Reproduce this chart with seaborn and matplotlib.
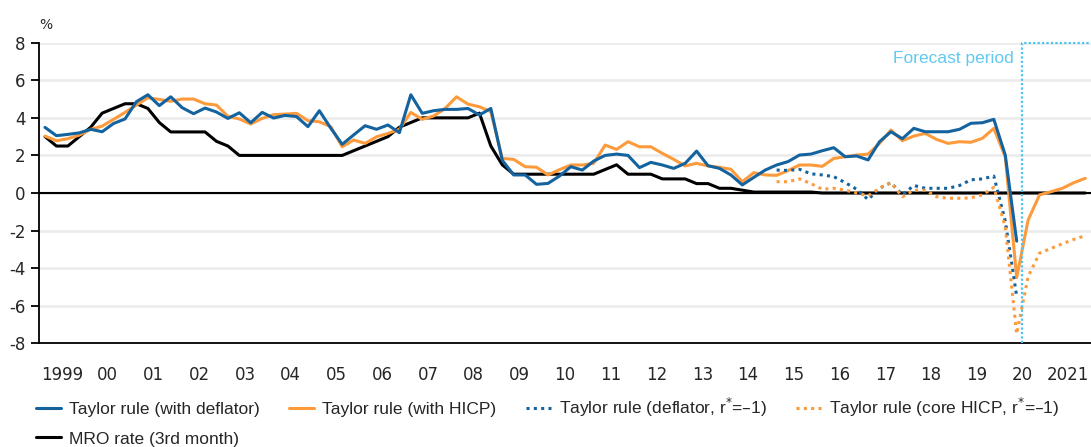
import numpy as np
import pandas as pd
import matplotlib
matplotlib.use("Agg")
import matplotlib.pyplot as plt
import seaborn as sns

# ---------------- data ----------------
start_period = "1999Q1"
forecast_start = 2020.5
year_labels = ["1999", "00", "01", "02", "03", "04", "05", "06", "07", "08", "09",
               "10", "11", "12", "13", "14", "15", "16", "17", "18", "19", "20", "2021"]

mro_rate = [3.0, 2.5, 2.5, 3.0, 3.5, 4.25, 4.5, 4.75, 4.75, 4.5, 3.75, 3.25,
            3.25, 3.25, 3.25, 2.75, 2.5, 2.0, 2.0, 2.0, 2.0, 2.0, 2.0, 2.0,
            2.0, 2.0, 2.0, 2.25, 2.5, 2.75, 3.0, 3.5, 3.75, 4.0, 4.0, 4.0,
            4.0, 4.0, 4.25, 2.5, 1.5, 1.0, 1.0, 1.0, 1.0, 1.0, 1.0, 1.0,
            1.0, 1.25, 1.5, 1.0, 1.0, 1.0, 0.75, 0.75, 0.75, 0.5, 0.5, 0.25,
            0.25, 0.15, 0.05, 0.05, 0.05, 0.05, 0.05, 0.05, 0.0, 0.0, 0.0, 0.0,
            0.0, 0.0, 0.0, 0.0, 0.0, 0.0, 0.0, 0.0, 0.0, 0.0, 0.0, 0.0,
            0.0, 0.0, 0.0, 0.0, 0.0, 0.0, 0.0, 0.0]

taylor_deflator = [3.49, 3.05, 3.12, 3.2, 3.39, 3.26, 3.7, 3.94, 4.86, 5.23, 4.65, 5.12,
                   4.54, 4.22, 4.52, 4.31, 3.97, 4.27, 3.74, 4.29, 3.99, 4.13, 4.07, 3.53,
                   4.38, 3.45, 2.59, 3.09, 3.58, 3.39, 3.62, 3.21, 5.23, 4.24, 4.38, 4.45,
                   4.45, 4.5, 4.15, 4.5, 1.74, 0.96, 0.96, 0.46, 0.51, 0.9, 1.4, 1.22,
                   1.7, 2.0, 2.07, 2.0, 1.35, 1.63, 1.49, 1.31, 1.58, 2.23, 1.45, 1.31,
                   0.96, 0.43, 0.83, 1.22, 1.49, 1.67, 2.02, 2.07, 2.25, 2.41, 1.93, 1.97,
                   1.76, 2.73, 3.26, 2.89, 3.44, 3.26, 3.26, 3.26, 3.39, 3.71, 3.74, 3.92,
                   2.02, -2.56]

taylor_hicp = [3.03, 2.78, 2.89, 3.08, 3.39, 3.56, 3.92, 4.29, 4.68, 5.07, 4.98, 4.88,
               5.0, 5.0, 4.75, 4.68, 4.08, 3.94, 3.67, 3.97, 4.17, 4.2, 4.24, 3.85,
               3.79, 3.53, 2.46, 2.82, 2.64, 2.99, 3.17, 3.39, 4.29, 3.92, 4.1, 4.5,
               5.12, 4.73, 4.59, 4.33, 1.84, 1.79, 1.4, 1.37, 0.96, 1.24, 1.49, 1.49,
               1.58, 2.55, 2.32, 2.73, 2.46, 2.46, 2.11, 1.79, 1.44, 1.58, 1.44, 1.37,
               1.26, 0.6, 1.08, 0.96, 0.94, 1.19, 1.49, 1.49, 1.42, 1.84, 1.93, 2.02,
               2.07, 2.64, 3.35, 2.78, 3.03, 3.17, 2.85, 2.64, 2.73, 2.7, 2.91, 3.44,
               1.93, -4.5, -1.44, -0.1, 0.07, 0.25, 0.55, 0.78]

rstar_start = "2015Q1"
taylor_deflator_rstar = [1.22, 1.2, 1.26, 1.02, 0.96, 0.87, 0.55, 0.2, -0.35, 0.25, 0.55,
                         -0.1, 0.4, 0.25, 0.25, 0.25, 0.4, 0.7, 0.75, 0.9, -1.5, -5.5]
taylor_core_rstar = [0.6, 0.6, 0.75, 0.5, 0.2, 0.25, 0.15, 0.0, -0.15, 0.25, 0.55,
                     -0.2, 0.15, 0.15, -0.2, -0.28, -0.28, -0.26, -0.1, 0.3, -1.8, -7.5,
                     -4.45, -3.2, -2.95, -2.7, -2.47, -2.27]


def quarter_mid(start, n):
    p = pd.period_range(start, periods=n, freq="Q")
    return np.asarray(p.year + (p.quarter - 1) / 4 + 0.125, dtype=float)


# ---------------- style ----------------
sns.set_style("white")
plt.rcParams["font.family"] = ["DejaVu Sans"]
plt.rcParams["axes.unicode_minus"] = False

BLUE = "#14639f"
ORANGE = "#fd9b3c"
LIGHTBLUE = "#4cc3f1"
NARROW = ["Liberation Sans", "DejaVu Sans"]

fig = plt.figure(figsize=(10.91, 4.47), dpi=100)
ax = fig.add_axes([0.036, 0.232, 0.964, 0.6725])

ax.yaxis.grid(True, color="#ebebeb", lw=1.8, zorder=0)
ax.set_axisbelow(True)
ax.axhline(0, color="black", lw=1.5, zorder=1)

lw = 2.2
dot = (0, (1.0, 1.4))

lbl_def = "Taylor rule (with deflator)"
lbl_hicp = "Taylor rule (with HICP)"
lbl_def_r = "Taylor rule (deflator, r$^{*}$=\u20131)"
lbl_core_r = "Taylor rule (core HICP, r$^{*}$=\u20131)"
lbl_mro = "MRO rate (3rd month)"

sns.lineplot(x=quarter_mid(start_period, len(mro_rate)), y=mro_rate, ax=ax,
             color="black", lw=lw, label=lbl_mro, zorder=2)
sns.lineplot(x=quarter_mid(start_period, len(taylor_hicp)), y=taylor_hicp, ax=ax,
             color=ORANGE, lw=lw, label=lbl_hicp, zorder=3)
sns.lineplot(x=quarter_mid(start_period, len(taylor_deflator)), y=taylor_deflator, ax=ax,
             color=BLUE, lw=lw, label=lbl_def, zorder=4)
sns.lineplot(x=quarter_mid(rstar_start, len(taylor_deflator_rstar)), y=taylor_deflator_rstar,
             ax=ax, color=BLUE, lw=lw, linestyle=dot, label=lbl_def_r, zorder=5)
sns.lineplot(x=quarter_mid(rstar_start, len(taylor_core_rstar)), y=taylor_core_rstar,
             ax=ax, color=ORANGE, lw=lw, linestyle=dot, label=lbl_core_r, zorder=5)

if ax.get_legend() is not None:
    ax.get_legend().remove()

first_year = int(year_labels[0])
n_years = len(year_labels)
ax.set_xlim(first_year, first_year + n_years)
ax.set_ylim(-8, 8)
ax.set_yticks(np.arange(-8, 9, 2))
ax.set_yticklabels([str(v) for v in range(-8, 9, 2)])
ax.set_xlabel("")
ax.set_ylabel("")

# x axis: long ticks at year boundaries, short at quarters, labels in mid-year
ax.set_xticks(np.arange(first_year, first_year + n_years + 1))
ax.set_xticklabels([])
ax.xaxis.set_minor_locator(matplotlib.ticker.MultipleLocator(0.25))
ax.tick_params(axis="x", which="major", length=11.5, width=1.3, color="black", direction="out")
ax.tick_params(axis="x", which="minor", length=6.5, width=1.3, color="black", direction="out")
ax.tick_params(axis="y", which="major", length=5.5, width=1.3, color="black",
               direction="out", labelsize=12, pad=4.5, left=True)

sec = ax.secondary_xaxis("bottom")
sec.set_xticks(np.arange(first_year, first_year + n_years) + 0.5)
sec.set_xticklabels(year_labels)
sec.tick_params(length=0, pad=16, labelsize=12)
sec.spines["bottom"].set_visible(False)

for s in ["top", "right"]:
    ax.spines[s].set_visible(False)
for s in ["left", "bottom"]:
    ax.spines[s].set_color("black")
    ax.spines[s].set_linewidth(1.3)

# forecast period frame
ax.plot([forecast_start, forecast_start, first_year + n_years], [-8, 8, 8],
        color=LIGHTBLUE, lw=1.6, linestyle=(0, (1, 1)), zorder=6, clip_on=False)
ax.text(forecast_start - 0.2, 7.15, "Forecast period", color="#62c9f2",
        ha="right", va="center", fontsize=12.5, family=NARROW)

fig.text(0.036, 0.945, "%", fontsize=10, ha="left", va="center")

# legend (column-major fill: first column holds rows 1 and 2)
h, l = ax.get_legend_handles_labels()
lookup = dict(zip(l, h))
order = [lbl_def, lbl_mro, lbl_hicp, lbl_def_r, lbl_core_r]
fig.legend([lookup[k] for k in order], order, ncol=4, loc="upper left",
           bbox_to_anchor=(0.033, 0.114), frameon=False, prop={"family": NARROW, "size": 12.5},
           handlelength=1.45, handletextpad=0.45, columnspacing=1.7, labelspacing=0.82,
           borderpad=0, borderaxespad=0)

fig.savefig("out.png", dpi=100)
